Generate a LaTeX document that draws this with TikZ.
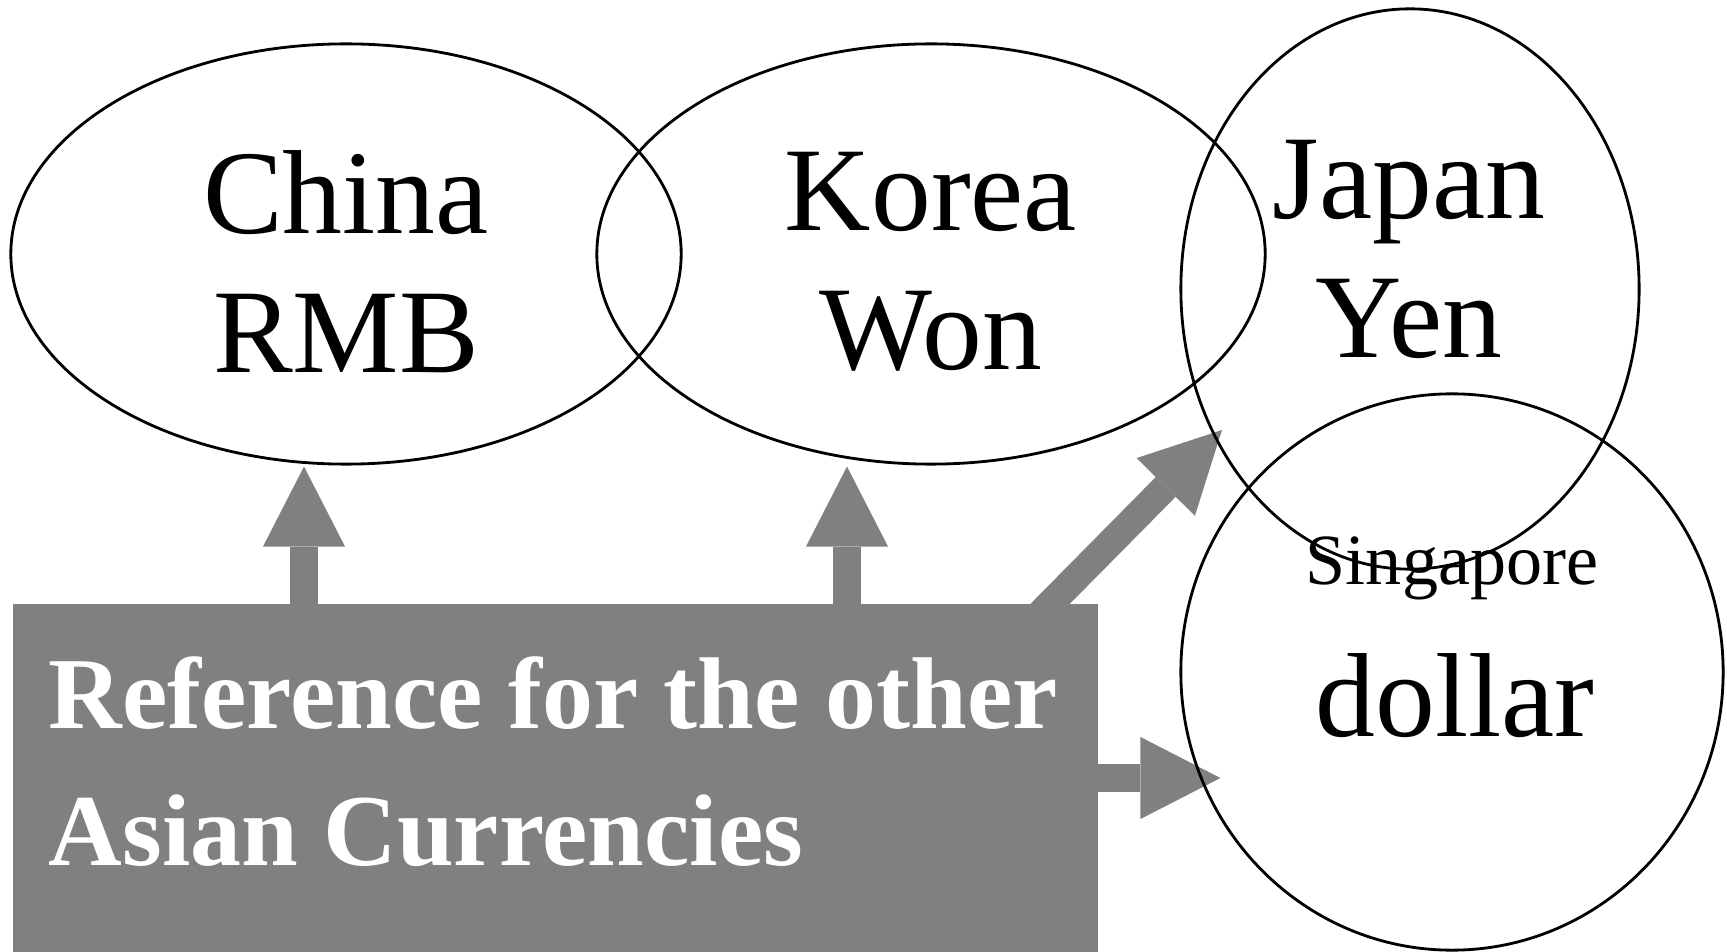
\documentclass[tikz,border=0pt]{standalone}
\usepackage{fontspec}
\setmainfont{Liberation Serif}
\usetikzlibrary{arrows.meta, positioning, shapes.geometric, calc, backgrounds}
\usepackage{xcolor}
\definecolor{refgray}{HTML}{808080}

\tikzset{
  cur/.style={draw, ellipse, line width=0.8pt, inner sep=0pt},
  curtext/.style={align=center, inner sep=0pt, font=\fontsize{34}{39.5}\selectfont},
  bigarrow/.style={draw=refgray, line width=0.28cm,
    -{Triangle[length=0.8cm, width=0.82cm, line width=0pt]}},
}

\begin{document}
\begin{tikzpicture}[x=0.01cm, y=-0.01cm]
\useasboundingbox (0,0) rectangle (1727,952);

% Currency ellipses
\node[cur, minimum width=6.70cm, minimum height=4.20cm] (china) at (346,254) {};
\node[cur, minimum width=6.68cm, minimum height=4.20cm] (korea) at (931,254) {};
\node[cur, minimum width=4.58cm, minimum height=5.60cm] (japan) at (1410,289) {};
\node[cur, minimum width=5.42cm, minimum height=5.56cm] (sing) at (1452,672) {};

% Labels
\node[curtext] (chinaT) at ($(china.center)+(0,8)$) {China\\RMB};
\node[curtext] (koreaT) at ($(korea.center)+(0,8)$) {Korea\\Won};
\node[curtext] (japanT) at (1409,249) {Japan\\Yen};
\node[font=\fontsize{20.5}{24}\selectfont, inner sep=0pt, anchor=base] (singT) at (1452,584) {Singapore};
\node[curtext, anchor=base] (dollarT) at (1455,736) {dollar};

% Reference box
\node[fill=refgray, minimum width=10.85cm, minimum height=3.48cm, inner sep=0pt] (refbox) at (555.5,778) {};
\node[font=\bfseries\fontsize{29}{39}\selectfont, text=white, align=left,
  anchor=north west, inner sep=0pt] (refT) at (48,656) {Reference for the other\\Asian Currencies};

% Arrows
\begin{scope}[on background layer]
\draw[bigarrow] ($(refbox.north -| china.south)+(-42,20)$) -- ($(china.south)+(-42,1)$);
\draw[bigarrow] ($(refbox.north -| korea.south)+(-84,20)$) -- ($(korea.south)+(-84,1)$);
\draw[bigarrow] ($(refbox.north east)+(-68,20)$) -- ($(japan.center)+(-188,141)$);
\draw[bigarrow] ($(refbox.east)+(-20,0)$) -- ($(sing.west)+(41,106)$);
\end{scope}
\end{tikzpicture}
\end{document}
